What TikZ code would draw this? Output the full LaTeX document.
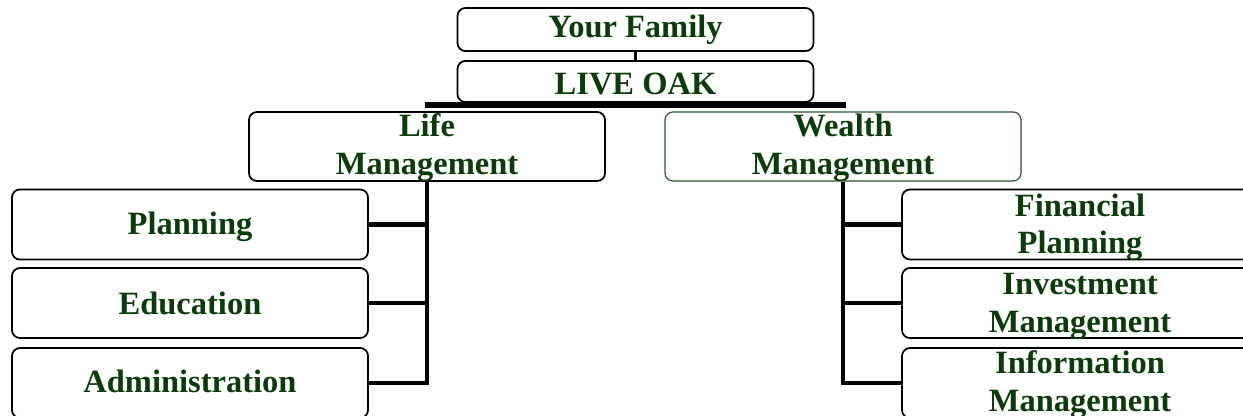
\documentclass[tikz,border=0pt]{standalone}
\usepackage{fontspec}
\setmainfont{Liberation Serif}
\usetikzlibrary{positioning, calc}
\definecolor{oakgreen}{HTML}{0B3B0B}
\tikzset{
  box/.style={draw=black, rounded corners=4.5pt, line width=1pt, minimum width=7.12cm,
              minimum height=1.4cm, inner sep=0pt},
  txt/.style={font=\bfseries\fontsize{18.5}{21.3}\selectfont, text=oakgreen, align=center,
              inner sep=0pt, anchor=base},
  trunk/.style={line width=2.6pt, draw=black},
}

\begin{document}
\begin{tikzpicture}
    \clip (0,0) rectangle (24.86,8.3);
    % top
    \node[box, minimum height=0.86cm] (fam) at (12.71,7.71) {};
    \node[box, minimum height=0.82cm] (oak) at (12.71,6.67) {};
    \node[txt] (famtxt) at ($(fam.north)+(0,-0.60)$) {Your Family};
    \node[txt] (oaktxt) at ($(oak.north)+(0,-0.68)$) {LIVE OAK};
    % second level
    \node[box, minimum height=1.38cm] (life) at (8.54,5.37) {};
    \node[box, minimum height=1.38cm, draw=oakgreen!85, line width=0.7pt] (wealth) at (16.86,5.37) {};
    \node[txt] (lifetxt) at ($(life.north)+(0,-1.26)$) {Life\\Management};
    \node[txt] (wealthtxt) at ($(wealth.north)+(0,-1.26)$) {Wealth\\Management};
    % life side
    \node[box] (plan) at (3.80,3.81) {};
    \node[box] (edu)  at (3.80,2.24) {};
    \node[box] (adm)  at (3.80,0.64) {};
    \node[txt] (plantxt) at ($(plan.north)+(0,-0.92)$) {Planning};
    \node[txt] (edutxt)  at ($(edu.north)+(0,-0.94)$)  {Education};
    \node[txt] (admtxt)  at ($(adm.north)+(0,-0.90)$)  {Administration};
    % wealth side
    \node[box] (fin)  at (21.60,3.81) {};
    \node[box] (inv)  at (21.60,2.24) {};
    \node[box] (info) at (21.60,0.64) {};
    \node[txt] (fintxt)  at ($(fin.north)+(0,-1.30)$)  {Financial\\Planning};
    \node[txt] (invtxt)  at ($(inv.north)+(0,-1.30)$)  {Investment\\Management};
    \node[txt] (infotxt) at ($(info.north)+(0,-1.28)$) {Information\\Management};

    \coordinate (bar) at (12.71,6.20);
    \draw[trunk, line width=2pt] (fam.south) -- (oak.north);
    \draw[trunk] (oak.south) -- (bar);
    \draw[trunk, line width=3pt] ([xshift=-0.05cm]life.north |- bar) -- ([xshift=0.05cm]wealth.north |- bar);
    \draw[trunk] (life.south) |- (adm.east);
    \draw[trunk] (wealth.south) |- (info.west);
    \foreach \n in {plan, edu}
      \draw[trunk] (\n.east) -- (life.south |- \n.east);
    \foreach \n in {fin, inv}
      \draw[trunk] (\n.west) -- (wealth.south |- \n.west);
\end{tikzpicture}
\end{document}
